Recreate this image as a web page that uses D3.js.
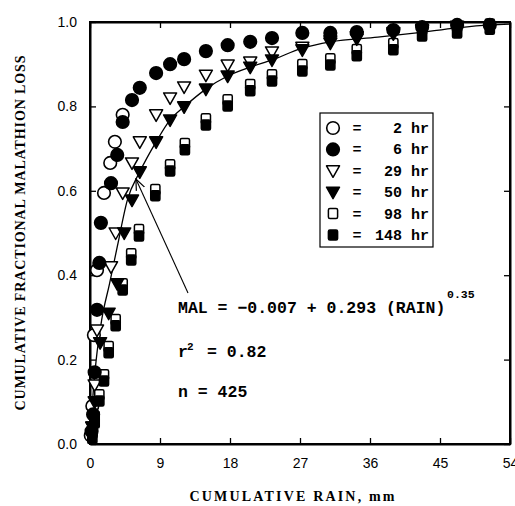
<!DOCTYPE html>
<html>
<head>
<meta charset="utf-8">
<script src="https://cdn.jsdelivr.net/npm/d3@7"></script>
<style>
  body { margin: 0; background: #fff; }
  text { fill: #000; }
</style>
</head>
<body>
<svg id="chart" width="515" height="506"></svg>
<script>
// values (cumulative rain in mm, fractional loss)
var rain2 = [0.1, 0.3, 0.5, 0.9, 1.8, 2.6, 3.2, 4.2]
var loss2 = [0.02, 0.09, 0.258, 0.412, 0.595, 0.666, 0.716, 0.78]

var rain6 = [0.2, 0.4, 0.6, 0.9, 1.2, 1.4, 2.7, 3.5, 4.2, 5.4, 6.4, 8.5, 10.3, 12.1, 14.9, 17.7, 20.6, 23.4, 27.3, 30.9, 34.3, 39.0, 42.7, 47.2, 51.4]
var loss6 = [0.03, 0.07, 0.17, 0.318, 0.429, 0.524, 0.618, 0.685, 0.763, 0.815, 0.844, 0.879, 0.900, 0.912, 0.931, 0.945, 0.953, 0.962, 0.974, 0.974, 0.976, 0.981, 0.988, 0.993, 0.993]

var rain29 = [0.3, 0.6, 0.9, 2.7, 3.3, 4.2, 5.4, 6.4, 8.5, 10.3, 12.1, 14.9, 17.7, 20.6, 23.4, 27.3, 30.9, 34.3, 39.0, 42.7, 47.2]
var loss29 = [0.04, 0.14, 0.27, 0.42, 0.50, 0.595, 0.666, 0.716, 0.780, 0.820, 0.846, 0.874, 0.898, 0.905, 0.929, 0.94, 0.955, 0.965, 0.975, 0.983, 0.99]

var rain50 = [0.3, 0.6, 1.3, 2.4, 3.5, 4.4, 5.4, 6.4, 8.5, 10.3, 12.1, 14.9, 17.7, 20.6, 23.4, 27.3, 30.9, 34.3, 39.0, 42.7, 47.2]
var loss50 = [0.04, 0.10, 0.24, 0.31, 0.38, 0.50, 0.578, 0.645, 0.716, 0.768, 0.799, 0.841, 0.872, 0.893, 0.910, 0.934, 0.95, 0.96, 0.972, 0.98, 0.988]

var rain98 = [0.3, 0.6, 1.2, 1.8, 2.4, 3.3, 4.2, 5.3, 6.3, 8.4, 10.3, 12.2, 14.9, 17.7, 20.6, 23.4, 27.3, 30.9, 34.3, 39.0, 42.7, 47.2, 51.4]
var loss98 = [0.028, 0.065, 0.117, 0.164, 0.231, 0.295, 0.380, 0.451, 0.508, 0.603, 0.662, 0.712, 0.771, 0.816, 0.852, 0.875, 0.899, 0.913, 0.935, 0.949, 0.982, 0.989, 0.995]

var rain148 = [0.3, 0.6, 1.2, 1.8, 2.4, 3.3, 4.2, 5.3, 6.3, 8.4, 10.3, 12.2, 14.9, 17.7, 20.6, 23.4, 27.3, 30.9, 34.3, 39.0, 42.7, 47.2, 51.4]
var loss148 = [0.013, 0.05, 0.102, 0.149, 0.216, 0.28, 0.365, 0.436, 0.493, 0.588, 0.647, 0.697, 0.756, 0.801, 0.837, 0.86, 0.884, 0.898, 0.92, 0.934, 0.967, 0.974, 0.983]

// fitted curve
var fitRain = [0, 0.15, 0.4, 0.8, 1.5, 2.5, 3.5, 4.8, 6.4, 8.5, 10.3, 12.1, 14.9, 17.7, 20.6, 23.4, 27.3, 30.9, 37, 42, 47.2, 51.4, 54]
var fitLoss = [0, 0.05, 0.12, 0.2, 0.294, 0.379, 0.467, 0.578, 0.645, 0.716, 0.768, 0.799, 0.841, 0.872, 0.893, 0.91, 0.938, 0.953, 0.964, 0.974, 0.986, 0.993, 0.995]

var xTicks = [0, 9, 18, 27, 36, 45, 54]
var yTicks = [0, 0.2, 0.4, 0.6, 0.8, 1.0]
var legendLabels = ["2 hr", "6 hr", "29 hr", "50 hr", "98 hr", "148 hr"]
var arrowFrom = [12.6, 0.358]
var arrowTo = [5.9, 0.628]

var mLeft = 90, mRight = 510, mTop = 22, mBottom = 444

var svg = d3.select("#chart")

var x = d3.scaleLinear().domain([0, 54]).range([mLeft, mRight])
var y = d3.scaleLinear().domain([0, 1]).range([mBottom, mTop])

var zip = (a, b) => a.map((v, i) => [v, b[i]])

// frame
svg.append("rect")
    .attr("x", x(0)).attr("y", y(1))
    .attr("width", x(54) - x(0)).attr("height", y(0) - y(1))
    .attr("fill", "none").attr("stroke", "#000").attr("stroke-width", 2)

// axes with inward ticks
var labelFont = "'Liberation Sans', Arial, sans-serif"
svg.append("g").attr("transform", "translate(0," + mBottom + ")")
    .call(d3.axisBottom(x).tickValues(xTicks).tickSizeInner(-6).tickSizeOuter(0).tickPadding(14))
svg.append("g").attr("transform", "translate(" + mLeft + ",0)")
    .call(d3.axisLeft(y).tickValues(yTicks).tickSizeInner(-6).tickSizeOuter(0).tickPadding(13).tickFormat(d3.format(".1f")))
svg.append("g").attr("transform", "translate(0," + mTop + ")")
    .call(d3.axisTop(x).tickValues(xTicks).tickSizeInner(-6).tickSizeOuter(0).tickFormat(""))
svg.append("g").attr("transform", "translate(" + mRight + ",0)")
    .call(d3.axisRight(y).tickValues(yTicks).tickSizeInner(-6).tickSizeOuter(0).tickFormat(""))

svg.selectAll(".domain").attr("stroke-width", 2)
svg.selectAll(".tick line").attr("stroke-width", 1.3)
svg.selectAll(".tick text").style("font-family", labelFont).style("font-size", "14px")

// axis titles
var titleFont = "'Liberation Serif', 'DejaVu Serif', serif"
svg.append("text")
    .attr("x", 292).attr("y", 501)
    .attr("text-anchor", "middle")
    .attr("textLength", 205).attr("lengthAdjust", "spacing")
    .style("font-family", titleFont).style("font-size", "14px").style("font-weight", "bold")
    .text("CUMULATIVE RAIN,  mm")

svg.append("text")
    .attr("transform", "translate(25," + ((mTop + mBottom) / 2) + ") rotate(-90)")
    .attr("text-anchor", "middle")
    .attr("textLength", 355).attr("lengthAdjust", "spacing")
    .style("font-family", titleFont).style("font-size", "14px").style("font-weight", "bold")
    .text("CUMULATIVE FRACTIONAL MALATHION LOSS")

// fitted curve
var line = d3.line()
    .x(d => x(d[0]))
    .y(d => y(d[1]))
    .curve(d3.curveMonotoneX)

svg.append("path")
    .attr("fill", "none").attr("stroke", "#000").attr("stroke-width", 1.3)
    .attr("d", line(zip(fitRain, fitLoss)))

// marker drawing
function drawMark(g, kind, filled) {
    var fill = filled ? "#000" : "#fff"
    if (kind == "circle") {
        g.append("circle").attr("r", 6.3)
            .attr("fill", fill).attr("stroke", "#000").attr("stroke-width", 1.6)
    } else if (kind == "tri") {
        g.append("path").attr("d", "M-6.5,-5L6.5,-5L0,6.5Z")
            .attr("fill", fill).attr("stroke", "#000").attr("stroke-width", 1.5)
            .attr("stroke-linejoin", "round")
    } else {
        g.append("rect").attr("x", -4.6).attr("y", -5).attr("width", 9.2).attr("height", 10)
            .attr("rx", 1.5)
            .attr("fill", fill).attr("stroke", "#000").attr("stroke-width", 1.5)
    }
}

var series = [
    { r: rain2, l: loss2, kind: "circle", filled: false },
    { r: rain29, l: loss29, kind: "tri", filled: false },
    { r: rain98, l: loss98, kind: "square", filled: false },
    { r: rain6, l: loss6, kind: "circle", filled: true },
    { r: rain50, l: loss50, kind: "tri", filled: true },
    { r: rain148, l: loss148, kind: "square", filled: true }
]

series.forEach(function (s) {
    svg.append("g").selectAll("g")
        .data(zip(s.r, s.l))
        .join("g")
        .attr("transform", d => "translate(" + x(d[0]) + "," + y(d[1]) + ")")
        .each(function () { drawMark(d3.select(this), s.kind, s.filled) })
})

// legend
var monoFont = "'Liberation Mono', 'Courier New', monospace"
var legendKinds = [["circle", false], ["circle", true], ["tri", false], ["tri", true], ["square", false], ["square", true]]
var lg = svg.append("g")
lg.append("rect")
    .attr("x", 320).attr("y", 113).attr("width", 113).attr("height", 134)
    .attr("fill", "#fff").attr("stroke", "#000").attr("stroke-width", 1.2)

legendLabels.forEach(function (lab, i) {
    var cy = 128 + i * 21.4
    var g = lg.append("g").attr("transform", "translate(333," + cy + ")")
    drawMark(g, legendKinds[i][0], legendKinds[i][1])
    lg.append("text").attr("x", 357).attr("y", cy + 5)
        .attr("text-anchor", "middle")
        .style("font-family", monoFont).style("font-size", "15px").style("font-weight", "bold")
        .text("=")
    lg.append("text").attr("x", 429).attr("y", cy + 5)
        .attr("text-anchor", "end")
        .style("font-family", monoFont).style("font-size", "15px").style("font-weight", "bold")
        .text(lab)
})

// arrow from equation to curve
svg.append("defs").append("marker")
    .attr("id", "head").attr("viewBox", "0 0 12 12")
    .attr("refX", 11).attr("refY", 6)
    .attr("markerWidth", 12).attr("markerHeight", 12)
    .attr("markerUnits", "userSpaceOnUse")
    .attr("orient", "auto")
    .append("path").attr("d", "M0,1.5L11,6L0,10.5")
    .attr("fill", "none").attr("stroke", "#000").attr("stroke-width", 1.2)

svg.append("line")
    .attr("x1", x(arrowFrom[0])).attr("y1", y(arrowFrom[1]))
    .attr("x2", x(arrowTo[0])).attr("y2", y(arrowTo[1]))
    .attr("stroke", "#000").attr("stroke-width", 1.1)
    .attr("marker-end", "url(#head)")

// equation and statistics
function noteText(xp, yp, size) {
    return svg.append("text").attr("x", xp).attr("y", yp)
        .style("font-family", monoFont).style("font-size", size + "px").style("font-weight", "bold")
        .attr("xml:space", "preserve")
}
noteText(178, 313, 16.5).text("MAL = \u22120.007 + 0.293 (RAIN)")
noteText(447, 298, 11.5).text("0.35")
noteText(178, 357, 16.5).text("r")
noteText(187, 350, 11).text("2")
noteText(207, 357, 16.5).text("= 0.82")
noteText(178, 397, 16.5).text("n = 425")
</script>
</body>
</html>
